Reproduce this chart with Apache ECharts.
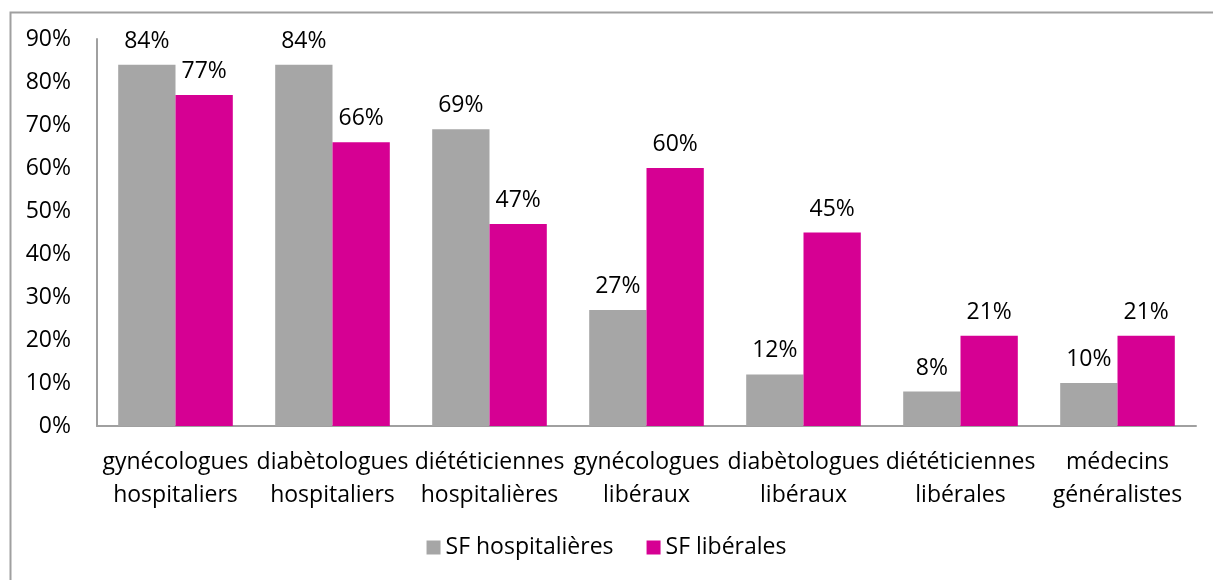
<!DOCTYPE html>
<html>
<head>
<meta charset="utf-8">
<script src="https://cdn.jsdelivr.net/npm/echarts@6/dist/echarts.min.js"></script>
<style>
  html, body { margin: 0; padding: 0; background: #fff; }
  #chart { width: 1213px; height: 580px; }
</style>
</head>
<body>
<div id="chart"></div>
<script>
// Chart data
var categories = [
    'gynécologues\nhospitaliers',
    'diabètologues\nhospitaliers',
    'diététiciennes\nhospitalières',
    'gynécologues\nlibéraux',
    'diabètologues\nlibéraux',
    'diététiciennes\nlibérales',
    'médecins\ngénéralistes'
];
var sfHospitalieres = [84, 84, 69, 27, 12, 8, 10];
var sfLiberales = [77, 66, 47, 60, 45, 21, 21];
var seriesNames = ['SF hospitalières', 'SF libérales'];

var FONT = '"Open Sans", "Liberation Sans", sans-serif';
var FS = 23;

var chart = echarts.init(document.getElementById('chart'));
var option = {
    animation: false,
    backgroundColor: '#fff',
    textStyle: { fontFamily: FONT },
    graphic: [{
        type: 'rect',
        left: 8,
        top: 10,
        shape: { width: 1400, height: 800 },
        style: { fill: 'none', stroke: '#a0a0a0', lineWidth: 2 },
        silent: true
    }],
    legend: {
        data: seriesNames,
        bottom: 16,
        left: 'center',
        itemWidth: 14,
        itemHeight: 14,
        itemGap: 33,
        icon: 'rect',
        textStyle: { fontSize: FS, color: '#000', fontFamily: FONT }
    },
    grid: {
        left: 97,
        right: 17,
        top: 39,
        bottom: 154,
        containLabel: false
    },
    xAxis: {
        type: 'category',
        data: categories,
        axisLine: { lineStyle: { color: '#a0a0a0', width: 2 } },
        axisTick: { show: false },
        axisLabel: {
            interval: 0,
            color: '#000',
            fontSize: FS,
            lineHeight: 33,
            margin: 20,
            fontFamily: FONT
        }
    },
    yAxis: {
        type: 'value',
        min: 0,
        max: 90,
        interval: 10,
        axisLine: { show: true, lineStyle: { color: '#a0a0a0', width: 2 } },
        axisTick: { show: false },
        splitLine: { show: false },
        axisLabel: {
            formatter: '{value}%',
            color: '#000',
            fontSize: FS,
            margin: 26,
            fontFamily: FONT
        }
    },
    series: [
        {
            name: seriesNames[0],
            type: 'bar',
            data: sfHospitalieres,
            itemStyle: { color: '#a6a6a6' },
            barGap: '0%',
            barCategoryGap: '27%',
            label: {
                show: true,
                position: 'top',
                distance: 12,
                formatter: '{c}%',
                color: '#000',
                fontSize: FS,
                fontFamily: FONT
            }
        },
        {
            name: seriesNames[1],
            type: 'bar',
            data: sfLiberales,
            itemStyle: { color: '#d60093' },
            barGap: '0%',
            barCategoryGap: '27%',
            label: {
                show: true,
                position: 'top',
                distance: 12,
                formatter: '{c}%',
                color: '#000',
                fontSize: FS,
                fontFamily: FONT
            }
        }
    ]
};
chart.setOption(option);
window.addEventListener('resize', function () {
    chart.resize();
});
</script>
</body>
</html>
